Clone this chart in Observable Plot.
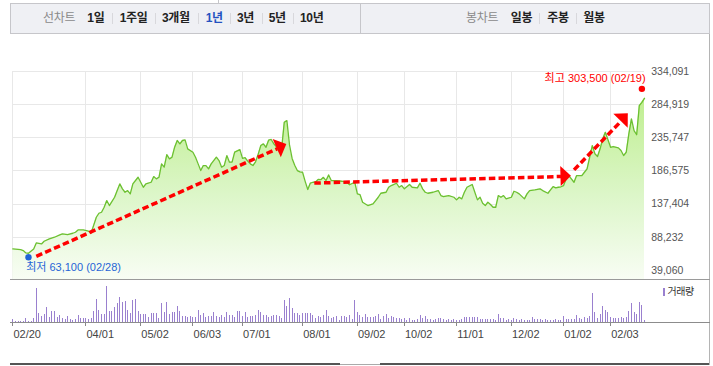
<!DOCTYPE html>
<html><head><meta charset="utf-8">
<script src="https://cdn.jsdelivr.net/npm/d3@7"></script>
<script src="https://cdn.jsdelivr.net/npm/@observablehq/plot@0.6"></script>
<style>
html,body{margin:0;padding:0;background:#fff;}
#wrap{position:relative;width:713px;height:366px;overflow:hidden;font-family:"Liberation Sans","Noto Sans CJK KR",sans-serif;}
.a{position:absolute;}
.hdr{left:10px;top:3px;width:700px;height:31px;box-sizing:border-box;background:#eff0f4;border:1px solid #c6c6ca;}
.it{position:absolute;top:11px;line-height:15px;font-size:12px;white-space:nowrap;color:#222;font-weight:bold;letter-spacing:-0.3px;}
.gr{color:#8a8a8a;font-weight:normal;}
.bl{color:#2452c0;}
.sep{position:absolute;top:13px;width:1px;height:11px;background:#d8d8dc;}
</style></head>
<body><div id="wrap"></div>
<script>
// ---------- data ----------
const yTicks = [39060, 88232, 137404, 186575, 235747, 284919, 334091];
const tickDay = [0, 28, 49, 69, 88, 111, 132, 150, 170, 191, 211, 229];
const tickLabel = ["02/20","04/01","05/02","06/03","07/01","08/01","09/02","10/02","11/01","12/02","01/02","02/03"];

// trading-day index (0 = 2024-02-20 ... 242 = 2025-02-20) and closing price
const closeDay = [
  0,3,4,5,6,8,9,11,12,14,
  16,18,19,21,23,24,25,27,29,30,
  32,33,34,35,36,37,39,40,41,42,
  43,44,45,46,48,49,50,51,53,54,
  55,56,57,58,59,60,61,62,63,64,
  65,66,67,69,70,71,72,73,74,75,
  76,78,79,80,81,82,83,84,85,87,
  88,89,90,91,92,93,94,95,96,97,
  98,99,100,101,102,103,104,105,106,107,
  108,109,110,111,112,113,114,115,116,117,
  118,119,120,121,122,124,126,128,129,131,
  132,133,134,136,138,139,140,141,143,144,
  145,147,148,149,150,152,153,155,156,157,
  158,159,161,163,164,165,167,169,170,171,
  172,173,174,176,177,178,179,180,181,182,
  183,184,185,186,187,188,189,191,192,193,
  194,196,197,198,200,202,203,205,206,207,
  208,209,210,211,212,213,215,216,218,219,
  220,222,223,224,225,226,227,228,229,230,
  232,233,234,235,236,237,238,239,240,241,
  242];
const closeVal = [
  71000,70000,68500,65100,64600,71000,79900,78400,82400,85800,
  88300,91700,93200,92200,94200,95700,99100,99100,97200,94500,
  117900,123800,125300,132700,142600,135200,147500,157400,167300,159900,
  154900,157400,152500,167300,177100,169700,162300,167300,169700,178100,
  174700,177100,196900,192000,210700,204300,206800,221600,231500,226500,
  231500,232400,219100,214200,206800,196900,187000,194400,194400,189500,
  196900,206800,201800,192000,194400,209200,199400,199400,214200,218000,
  205000,206000,201000,196900,194400,200000,211000,224000,226500,221500,
  232000,233000,226500,222000,216000,220000,258600,261000,225000,205000,
  195000,187000,185000,184500,171000,159000,168500,169700,170000,174000,
  173500,177000,172200,180500,172200,172200,171200,169700,166000,169700,
  152500,151500,140100,135200,137700,142600,147500,153400,154900,162300,
  164800,168200,162300,164800,159900,166300,162300,161400,168200,159900,
  154900,153400,154900,157400,150000,148500,150000,147500,143600,147500,
  145100,154900,162300,166300,154900,143600,147500,138600,135200,140100,
  136700,132700,132700,150000,147500,150000,145100,147500,156400,154900,
  152500,145100,152500,157400,158400,159900,157400,153400,158400,163300,
  161400,162300,163000,164800,174700,179600,169700,179600,179600,184500,
  189500,224000,211800,207800,219200,234000,243700,232500,221500,222600,
  220600,216600,209200,214100,241400,263600,246000,240000,283000,288000,
  294000];

// daily volume (thousand shares), one per trading day 0..242
const volume = [
  100,40,40,40,40,130,40,40,120,1030,
  280,190,250,460,160,340,340,160,220,130,
  100,190,100,70,100,220,130,130,130,100,
  130,340,700,370,250,250,1090,340,340,460,
  580,760,610,640,370,280,670,700,340,250,
  250,250,160,280,280,280,130,580,310,610,
  250,310,310,490,340,190,190,160,190,160,
  160,370,220,280,160,190,190,310,190,160,
  220,160,310,220,220,160,340,340,190,310,
  160,190,190,220,370,310,220,220,160,190,
  220,220,190,130,670,490,730,430,280,280,
  220,280,280,280,280,220,130,190,160,220,
  370,190,130,160,190,70,190,190,160,220,
  100,670,310,220,
  170,250,150,150,150,190,250,90,190,250,
  120,190,150,120,120,90,120,70,120,70,
  70,90,220,120,190,90,90,70,90,120,
  120,90,70,90,70,90,70,70,90,150,
  150,150,150,150,150,90,90,90,90,90,
  90,70,250,120,120,70,90,70,120,90,
  70,90,70,70,70,150,90,90,90,70,
  90,70,70,70,90,70,70,190,90,90,
  90,90,220,120,90,150,120,190,870,310,
  120,250,490,370,310,150,120,120,120,150,
  120,150,340,580,310,250,610,520,70];

const lowDay = 6, lowVal = 63100, lowLabel = "최저 63,100 (02/28)";
const highDay = 241, highVal = 303500, highLabel = "최고 303,500 (02/19)";

// trend arrows (start and head position, in trading-day / price units)
const arrowX1 = [9, 115.5, 215];
const arrowY1 = [60000, 168500, 188000];
const arrowX2 = [101.3, 210, 233];
const arrowY2 = [219300, 178200, 260000];

const leftMenu = ["1일","1주일","3개월","1년","3년","5년","10년"];
const rightMenu = ["일봉","주봉","월봉"];

// ---------- layout ----------
const FONT = '"Liberation Sans","Noto Sans CJK KR",sans-serif';
const wrap = document.getElementById("wrap");
const yMin = yTicks[0] - (yTicks[1] - yTicks[0]) * 0.28;
const prices = closeDay.map((d, i) => ({d, v: closeVal[i]}));
const arrows = arrowX1.map((x, i) => ({x1: x, y1: arrowY1[i], x2: arrowX2[i], y2: arrowY2[i]}));

function arrowHeads(index, scales) {
  const g = d3.create("svg:g");
  for (const a of arrows) {
    const x1 = scales.x(a.x1), y1 = scales.y(a.y1), x2 = scales.x(a.x2), y2 = scales.y(a.y2);
    const ang = Math.atan2(y2 - y1, x2 - x1), ux = Math.cos(ang), uy = Math.sin(ang);
    const half = 10, len = 10.5;
    const tip = [x2 + ux * len, y2 + uy * len];
    const b1 = [x2 - uy * half, y2 + ux * half];
    const b2 = [x2 + uy * half, y2 - ux * half];
    g.append("path").attr("d", `M${b1}L${tip}L${b2}Z`).attr("fill", "#ff0000");
  }
  return g.node();
}

const main = Plot.plot({
  width: 713, height: 280,
  marginTop: 70.7, marginBottom: 0.7, marginLeft: 12.3, marginRight: 69,
  x: {domain: [0, 242], axis: null},
  y: {domain: [yMin, yTicks[yTicks.length - 1]], axis: null},
  style: {background: "transparent", fontFamily: FONT, overflow: "visible"},
  marks: [
    Plot.ruleY(yTicks, {stroke: "#e8e8e8", shapeRendering: "crispEdges"}),
    Plot.ruleX(tickDay, {stroke: "#e8e8e8", shapeRendering: "crispEdges"}),
    Plot.areaY(prices, {x: "d", y1: yMin, y2: "v", fill: "url(#priceFill)"}),
    Plot.line(prices, {x: "d", y: "v", stroke: "#6cc031", strokeWidth: 1.3}),
    Plot.link(arrows, {x1: "x1", y1: "y1", x2: "x2", y2: "y2", stroke: "#ff0000", strokeWidth: 3.5, strokeDasharray: "6.5,3.2"}),
    arrowHeads,
    Plot.dot([{d: lowDay, v: lowVal}], {x: "d", y: "v", r: 3.2, fill: "#1f64d6", dy: 3}),
    Plot.dot([{d: highDay, v: highVal}], {x: "d", y: "v", r: 3.2, fill: "#ff0000", dy: -3}),
    Plot.text([{d: lowDay, v: lowVal}], {x: "d", y: "v", text: () => lowLabel, textAnchor: "start", dx: -2.3, dy: 13.4, fill: "#1f64d6", fontSize: 11}),
    Plot.text([{d: highDay, v: highVal}], {x: "d", y: "v", text: () => highLabel, textAnchor: "end", dx: 3.7, dy: -13.6, fill: "#ff0000", fontSize: 11}),
    Plot.text(yTicks, {y: d => d, frameAnchor: "right", dx: 6.7, textAnchor: "start", text: d3.format(","), fill: "#555", fontSize: 10.5})
  ]
});
const defs = d3.select(main).insert("defs", ":first-child");
const grad = defs.append("linearGradient").attr("id", "priceFill")
  .attr("gradientUnits", "userSpaceOnUse").attr("x1", 0).attr("x2", 0).attr("y1", 90).attr("y2", 279);
grad.append("stop").attr("offset", 0).attr("stop-color", "#bdee8c");
grad.append("stop").attr("offset", 0.55).attr("stop-color", "#dcf6c8");
grad.append("stop").attr("offset", 1).attr("stop-color", "#f8fdf4");
main.style.position = "absolute"; main.style.left = "0px"; main.style.top = "0px";
wrap.appendChild(main);

const volMax = d3.max(volume);
const volDepth = volMax * 4 / 36.3;
const vol = Plot.plot({
  width: 713, height: 86,
  marginTop: 6, marginBottom: 39.7, marginLeft: 12.3, marginRight: 69,
  x: {domain: [0, 242], axis: null},
  y: {domain: [-volDepth, volMax], axis: null},
  style: {background: "transparent", fontFamily: FONT, overflow: "visible"},
  marks: [
    Plot.ruleX(volume, {x: (d, i) => i, y1: 0, y2: d => d, stroke: "#9a80cf", strokeWidth: 1, shapeRendering: "crispEdges"}),
    Plot.ruleX(tickDay, {x: d => d, y1: 0, y2: -volDepth, stroke: "#888", shapeRendering: "crispEdges"}),
    Plot.text(tickDay, {x: d => d, frameAnchor: "bottom", lineAnchor: "top", dy: 3, dx: 0.6, textAnchor: "start", text: (d, i) => tickLabel[i], fill: "#444", fontSize: 11})
  ]
});
vol.style.position = "absolute"; vol.style.left = "0px"; vol.style.top = "280px";
wrap.appendChild(vol);

// ---------- frame & header (HTML decoration) ----------
function div(cls, css, html) {
  const e = document.createElement("div");
  e.className = cls; e.style.cssText = css; if (html != null) e.innerHTML = html;
  wrap.appendChild(e); return e;
}
div("a", "left:218px;top:0;width:1px;height:3px;background:#c6c6ca;");
div("a", "left:709px;top:3px;width:1px;height:362px;background:#b4b4b4;");
div("a", "left:10px;top:279px;width:700px;height:1px;background:#9a9a9a;");
div("a", "left:10px;top:322px;width:700px;height:1px;background:#8c8c8c;");
div("a", "left:10px;top:363px;width:330px;height:2px;background:#555;");
div("a", "left:340px;top:364px;width:40px;height:1px;background:#aaa;");
div("a", "left:380px;top:363px;width:329px;height:2px;background:#555;");
const hdr = div("a hdr", "");
div("a", "left:360px;top:3px;width:1px;height:31px;background:#c6c6ca;");
const leftX = [87.3, 119.7, 162, 205.7, 237, 268.7, 300];
const leftSep = [112.3, 155.3, 198.3, 230, 261.7, 293.3];
const rightX = [510.7, 547.3, 583.3];
const rightSep = [539, 575.7];
div("it gr", "left:43px;", "선차트");
leftMenu.forEach((t, i) => div("it" + (t === "1년" ? " bl" : ""), `left:${leftX[i]}px;`, t));
leftSep.forEach(x => div("sep", `left:${x}px;`));
div("it gr", "left:466px;", "봉차트");
rightMenu.forEach((t, i) => div("it", `left:${rightX[i]}px;`, t));
rightSep.forEach(x => div("sep", `left:${x}px;`));
// volume legend
div("a", "left:663px;top:288px;width:2.3px;height:7.5px;background:#9a80cf;");
div("a", "left:667.5px;top:285px;font-size:10px;line-height:13px;color:#333;letter-spacing:-0.5px;", "거래량");
</script>
</body></html>
